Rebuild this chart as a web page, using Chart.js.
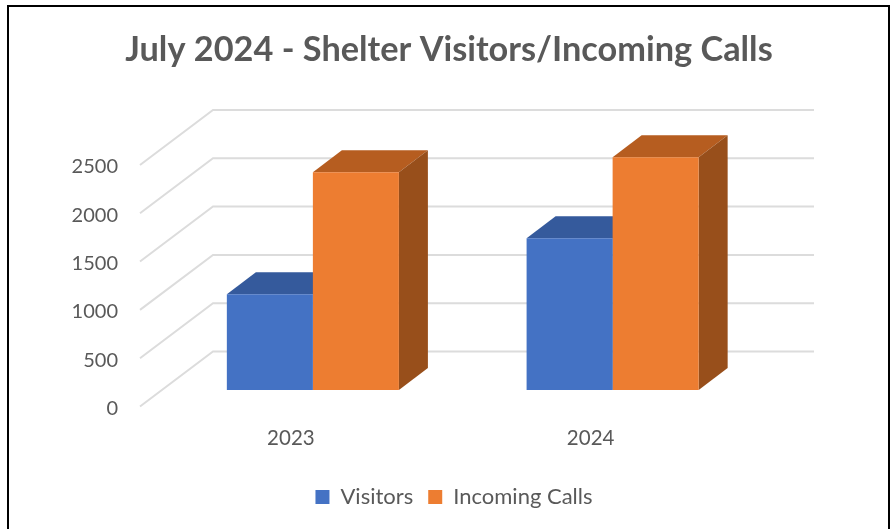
<!DOCTYPE html>
<html>
<head>
<meta charset="utf-8">
<title>July 2024 - Shelter Visitors/Incoming Calls</title>
<script src="https://cdn.jsdelivr.net/npm/chart.js@4/dist/chart.umd.min.js"></script>
<style>
  html, body { margin: 0; padding: 0; background: #fff; }
  #wrap { position: relative; width: 890px; height: 529px; overflow: hidden; }
  #frame { position: absolute; left: 7px; top: 5px; width: 879px; height: 540px; border: 2px solid #000; }
  canvas { position: absolute; left: 0; top: 0; }
</style>
</head>
<body>
<div id="wrap">
  <div id="frame"></div>
  <canvas id="chartShelter" width="890" height="529"></canvas>
</div>
<script>
var categories = ['2023', '2024'];
var visitors = [990, 1570];
var incomingCalls = [2255, 2410];
var yTicks = [0, 500, 1000, 1500, 2000, 2500];

var textColor = '#595959';
var fontName = 'Lato, Carlito, Calibri, sans-serif';

// depth of the fake 3D box, measured from the plane the bars stand in
var wallFront = { x: -23, y: 16.5 };
var wallBack = { x: 50, y: -38.5 };
var wallRightEnd = 51.5;
var barDepth = { x: 29, y: -22 };

function poly(ctx, pts, fill) {
  ctx.beginPath();
  pts.forEach(function (p, i) {
    if (i === 0) ctx.moveTo(p[0], p[1]);
    else ctx.lineTo(p[0], p[1]);
  });
  ctx.closePath();
  ctx.fillStyle = fill;
  ctx.fill();
}

var fake3d = {
  id: 'fake3d',
  // legend sits a little right of the title in the original
  afterLayout: function (chart) {
    chart.legend.left += 5;
    chart.legend.right += 5;
  },
  beforeDatasetsDraw: function (chart) {
    var ctx = chart.ctx;
    var y = chart.scales.y;
    var area = chart.chartArea;

    ctx.save();
    ctx.strokeStyle = '#dcdcdc';
    ctx.lineWidth = 2;
    yTicks.forEach(function (v) {
      var py = y.getPixelForValue(v);
      ctx.beginPath();
      ctx.moveTo(area.left + wallFront.x, py + wallFront.y);
      ctx.lineTo(area.left + wallBack.x, py + wallBack.y);
      ctx.lineTo(area.right + wallRightEnd, py + wallBack.y);
      ctx.stroke();
    });

    chart.data.datasets.forEach(function (ds, i) {
      chart.getDatasetMeta(i).data.forEach(function (bar) {
        var l = bar.x - bar.width / 2;
        var r = bar.x + bar.width / 2;
        var dx = barDepth.x;
        var dy = barDepth.y;
        poly(ctx, [[l, bar.y], [r, bar.y], [r + dx, bar.y + dy], [l + dx, bar.y + dy]], ds.topColor);
        poly(ctx, [[r, bar.y], [r + dx, bar.y + dy], [r + dx, bar.base + dy], [r, bar.base]], ds.sideColor);
      });
    });
    ctx.restore();
  }
};

var ctx = document.getElementById('chartShelter');

var chartShelter = new Chart(ctx, {
  type: 'bar',
  plugins: [fake3d],
  data: {
    labels: categories,
    datasets: [
      { label: 'Visitors', data: visitors, backgroundColor: '#4472c4', topColor: '#355a9c', sideColor: '#2c4c85', yAxisID: 'y' },
      { label: 'Incoming Calls', data: incomingCalls, backgroundColor: '#ed7d31', topColor: '#b65d20', sideColor: '#984f1b', yAxisID: 'y' }
    ]
  },
  options: {
    responsive: false,
    animation: false,
    layout: { padding: { left: 8, right: 0, top: 0, bottom: 11 } },
    categoryPercentage: 0.574,
    barPercentage: 1,
    plugins: {
      title: {
        display: true,
        text: 'July 2024 - Shelter Visitors/Incoming Calls',
        color: textColor,
        font: { family: fontName, size: 34.3, weight: 'bold' },
        padding: { top: 29.4, bottom: 77.9 },
        align: 'center'
      },
      legend: {
        position: 'bottom',
        labels: {
          color: textColor,
          font: { family: fontName, size: 22 },
          boxWidth: 14,
          boxHeight: 14,
          padding: 15
        }
      },
      tooltip: { enabled: false }
    },
    scales: {
      x: {
        grid: { display: false },
        border: { display: false },
        ticks: { color: textColor, font: { family: fontName, size: 20.5 }, padding: 28, maxRotation: 0, labelOffset: -22 },
        afterFit: function (scale) { scale.height = 81; }
      },
      y: {
        min: 0,
        max: 2500,
        grid: { display: false },
        border: { display: false },
        afterFit: function (scale) { scale.width = 155; },
        ticks: {
          color: textColor,
          font: { family: fontName, size: 20 },
          stepSize: 500,
          padding: 37,
          labelOffset: 18.5,
          format: { useGrouping: false }
        }
      },
      // empty axis, only keeps the plot off the right side so title and legend stay centred
      rightGap: {
        position: 'right',
        grid: { display: false },
        border: { display: false },
        ticks: { display: false },
        afterFit: function (scale) { scale.width = 127.5; }
      }
    }
  }
});
</script>
</body>
</html>
